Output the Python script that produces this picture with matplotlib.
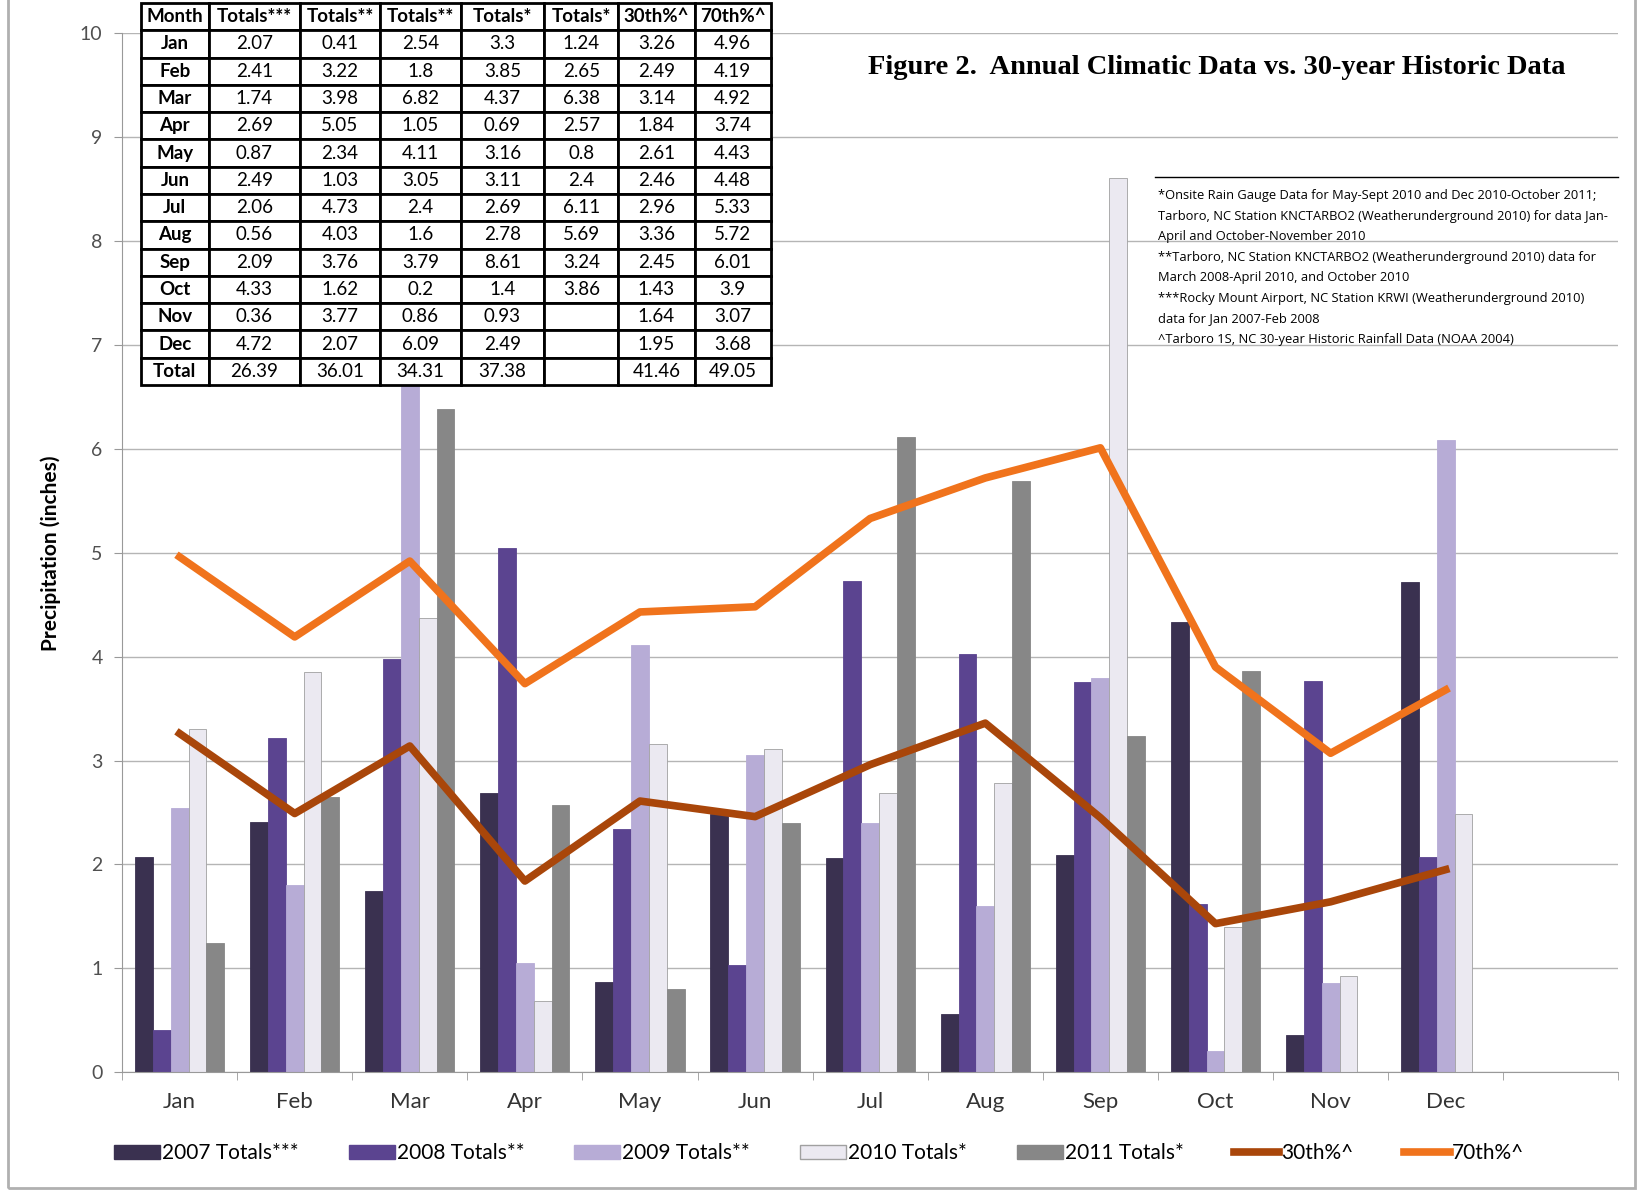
import matplotlib.pyplot as plt
import numpy as np
from matplotlib.patches import Rectangle
from matplotlib.lines import Line2D

plt.rcParams['font.family'] = ['Lato', 'DejaVu Sans']

months = ['Jan', 'Feb', 'Mar', 'Apr', 'May', 'Jun', 'Jul', 'Aug', 'Sep', 'Oct', 'Nov', 'Dec']
y2007 = [2.07, 2.41, 1.74, 2.69, 0.87, 2.49, 2.06, 0.56, 2.09, 4.33, 0.36, 4.72]
y2008 = [0.41, 3.22, 3.98, 5.05, 2.34, 1.03, 4.73, 4.03, 3.76, 1.62, 3.77, 2.07]
y2009 = [2.54, 1.8, 6.82, 1.05, 4.11, 3.05, 2.4, 1.6, 3.79, 0.2, 0.86, 6.09]
y2010 = [3.3, 3.85, 4.37, 0.69, 3.16, 3.11, 2.69, 2.78, 8.61, 1.4, 0.93, 2.49]
y2011 = [1.24, 2.65, 6.38, 2.57, 0.8, 2.4, 6.11, 5.69, 3.24, 3.86, np.nan, np.nan]
p30 = [3.26, 2.49, 3.14, 1.84, 2.61, 2.46, 2.96, 3.36, 2.45, 1.43, 1.64, 1.95]
p70 = [4.96, 4.19, 4.92, 3.74, 4.43, 4.48, 5.33, 5.72, 6.01, 3.9, 3.07, 3.68]

series_names = ['2007 Totals***', '2008 Totals**', '2009 Totals**', '2010 Totals*', '2011 Totals*']
series = [y2007, y2008, y2009, y2010, y2011]
bar_colors = ['#3a3150', '#5b4490', '#b7acd6', '#ebe9f1', '#878787']

table_header = ['Month', 'Totals***', 'Totals**', 'Totals**', 'Totals*', 'Totals*', '30th%^', '70th%^']
totals = ['26.39', '36.01', '34.31', '37.38', '', '41.46', '49.05']

notes = ("*Onsite Rain Gauge Data for May-Sept 2010 and Dec 2010-October 2011;\n"
         "Tarboro, NC Station KNCTARBO2 (Weatherunderground 2010) for data Jan-\n"
         "April and October-November 2010\n"
         "**Tarboro, NC Station KNCTARBO2 (Weatherunderground 2010) data for\n"
         "March 2008-April 2010, and October 2010\n"
         "***Rocky Mount Airport, NC Station KRWI (Weatherunderground 2010)\n"
         "data for Jan 2007-Feb 2008\n"
         "^Tarboro 1S, NC 30-year Historic Rainfall Data (NOAA 2004)")

fig = plt.figure(figsize=(16.38, 11.9), dpi=100)
fig.patches.append(Rectangle((0.005, 0.002), 0.993, 1.1, transform=fig.transFigure,
                             fill=False, edgecolor='#b0b0b0', linewidth=2))

ax = fig.add_axes([0.0745, 0.099, 0.9135, 0.873])
x = np.arange(len(months))
w = 0.155
for i, (vals, name, c) in enumerate(zip(series, series_names, bar_colors)):
    ax.bar(x + (i - 2) * w, vals, width=w, color=c, edgecolor='#a0a0a0' if i == 3 else c,
           linewidth=0.6, label=name, zorder=2)

ax.plot(x, p30, color='#a9460a', linewidth=5.5, label='30th%^', zorder=3)
ax.plot(x, p70, color='#f0731c', linewidth=5.5, label='70th%^', zorder=3)

ax.set_xlim(-0.5, 12.5)
ax.set_ylim(0, 10)
ax.set_yticks(range(0, 11))
ax.yaxis.grid(True, color='#b5b5b5', linewidth=1.0, zorder=0)
ax.set_axisbelow(True)
ax.set_xticks(x)
ax.set_xticklabels(months, fontsize=16, color='#333333')
ax.set_xticks(np.arange(-0.5, 13, 1), minor=True)
ax.tick_params(axis='x', which='major', length=0, pad=14)
ax.tick_params(axis='x', which='minor', length=6, color='#999999')
ax.tick_params(axis='y', labelsize=14, labelcolor='#505050', length=6, color='#999999', pad=8)
for s in ['top', 'right']:
    ax.spines[s].set_visible(False)
for s in ['left', 'bottom']:
    ax.spines[s].set_color('#999999')
ax.set_ylabel('Precipitation (inches)', fontsize=15, fontweight='bold', labelpad=14)

handles = [Rectangle((0, 0), 1, 1, facecolor=c, edgecolor='#a0a0a0' if i == 3 else c)
           for i, c in enumerate(bar_colors)]
handles += [Line2D([], [], color='#a9460a', linewidth=5.5), Line2D([], [], color='#f0731c', linewidth=5.5)]
fig.legend(handles, series_names + ['30th%^', '70th%^'], loc='center', bbox_to_anchor=(0.50, 0.031),
           ncol=7, frameon=False, fontsize=15, handlelength=2.2, handletextpad=0.1, columnspacing=2.4)

fig.text(0.743, 0.943, 'Figure 2.  Annual Climatic Data vs. 30-year Historic Data', ha='center', va='center',
         fontsize=20.5, fontweight='bold', family='Liberation Serif')

fig.add_artist(Line2D([0.705, 0.988], [0.851, 0.851], transform=fig.transFigure, color='black', linewidth=1))
fig.text(0.707, 0.841, notes, ha='left', va='top', fontsize=9.3, linespacing=1.75, family='Open Sans')

# data table in the top-left
rows = [table_header]
for i, m in enumerate(months):
    vals = [y2007[i], y2008[i], y2009[i], y2010[i], y2011[i], p30[i], p70[i]]
    rows.append([m] + ['' if np.isnan(v) else '%g' % v for v in vals])
rows.append(['Total'] + totals)

tax = fig.add_axes([0.086, 0.6765, 0.3846, 0.321])
tax.axis('off')
col_w = np.array([65, 87, 77, 77, 80, 71, 73, 73], dtype=float)
tab = tax.table(cellText=rows, colWidths=list(col_w / col_w.sum()), cellLoc='center', bbox=[0, 0, 1, 1])
tab.auto_set_font_size(False)
for (r, c), cell in tab.get_celld().items():
    cell.set_linewidth(2)
    cell.set_facecolor('white')
    t = cell.get_text()
    t.set_fontsize(13.5)
    if r == 0 or c == 0:
        t.set_fontweight('bold')

fig.savefig('out.png', dpi=100)
